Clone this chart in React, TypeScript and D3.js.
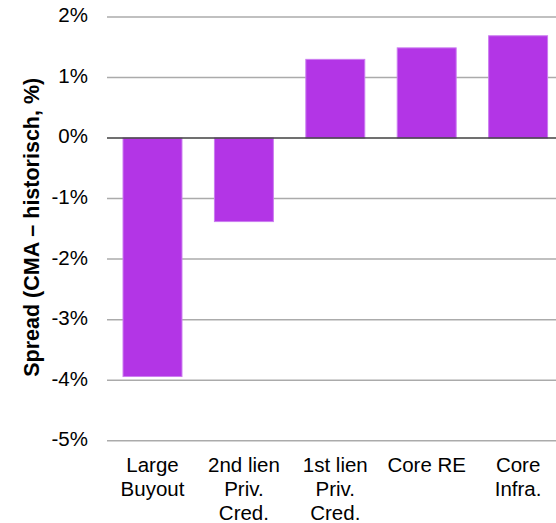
import React from "react";
import * as d3 from "d3";

const categories: string[][] = [
  ["Large", "Buyout"],
  ["2nd lien", "Priv.", "Cred."],
  ["1st lien", "Priv.", "Cred."],
  ["Core RE"],
  ["Core", "Infra."],
];
const spreads: number[] = [-3.94, -1.38, 1.3, 1.49, 1.69];
const yTicks: number[] = [2, 1, 0, -1, -2, -3, -4, -5];
const yTitle = "Spread (CMA \u2013 historisch, %)";

const W = 556;
const H = 523;
const FONT = "Liberation Sans, Arial, sans-serif";

export default function App() {
  const keys = categories.map((c) => c.join(" "));
  const x = d3
    .scaleBand<string>()
    .domain(keys)
    .range([106.8, 563.8])
    .paddingInner(0.355)
    .paddingOuter(0.1775);
  const y = d3.scaleLinear().domain([-5, 2]).range([440.7, 17]);

  return (
    <svg
      width={W}
      height={H}
      style={{ position: "absolute", left: 0, top: 0, background: "#fff" }}
      fontFamily={FONT}
    >
      {yTicks
        .filter((t) => t !== 0)
        .map((t) => (
          <line
            key={"g" + t}
            x1={107}
            x2={W}
            y1={y(t)}
            y2={y(t)}
            stroke="#ABABAB"
            strokeWidth={1.5}
          />
        ))}
      {spreads.map((v, i) => {
        const y0 = y(0);
        const y1 = y(v);
        return (
          <rect
            key={"b" + i}
            x={x(keys[i])!}
            width={x.bandwidth()}
            y={Math.min(y0, y1)}
            height={Math.abs(y1 - y0)}
            fill="#B335E6"
            stroke="#CB7CF0"
            strokeWidth={1}
          />
        );
      })}
      <line x1={107} x2={W} y1={y(0)} y2={y(0)} stroke="#404040" strokeWidth={1.5} />
      {yTicks.map((t) => (
        <text
          key={"t" + t}
          x={88}
          y={y(t)}
          textAnchor="end"
          dominantBaseline="middle"
          fontSize={20.5}
          fill="#000"
        >
          {t + "%"}
        </text>
      ))}
      {categories.map((lines, i) => (
        <text
          key={"c" + i}
          x={x(keys[i])! + x.bandwidth() / 2}
          y={472}
          textAnchor="middle"
          fontSize={20.5}
          fill="#000"
        >
          {lines.map((l, j) => (
            <tspan key={j} x={x(keys[i])! + x.bandwidth() / 2} dy={j === 0 ? 0 : 24}>
              {l}
            </tspan>
          ))}
        </text>
      ))}
      <text
        transform={`translate(39, 227.3) rotate(-90)`}
        textAnchor="middle"
        fontSize={21.5}
        fontWeight="bold"
        fill="#000"
      >
        {yTitle}
      </text>
    </svg>
  );
}
